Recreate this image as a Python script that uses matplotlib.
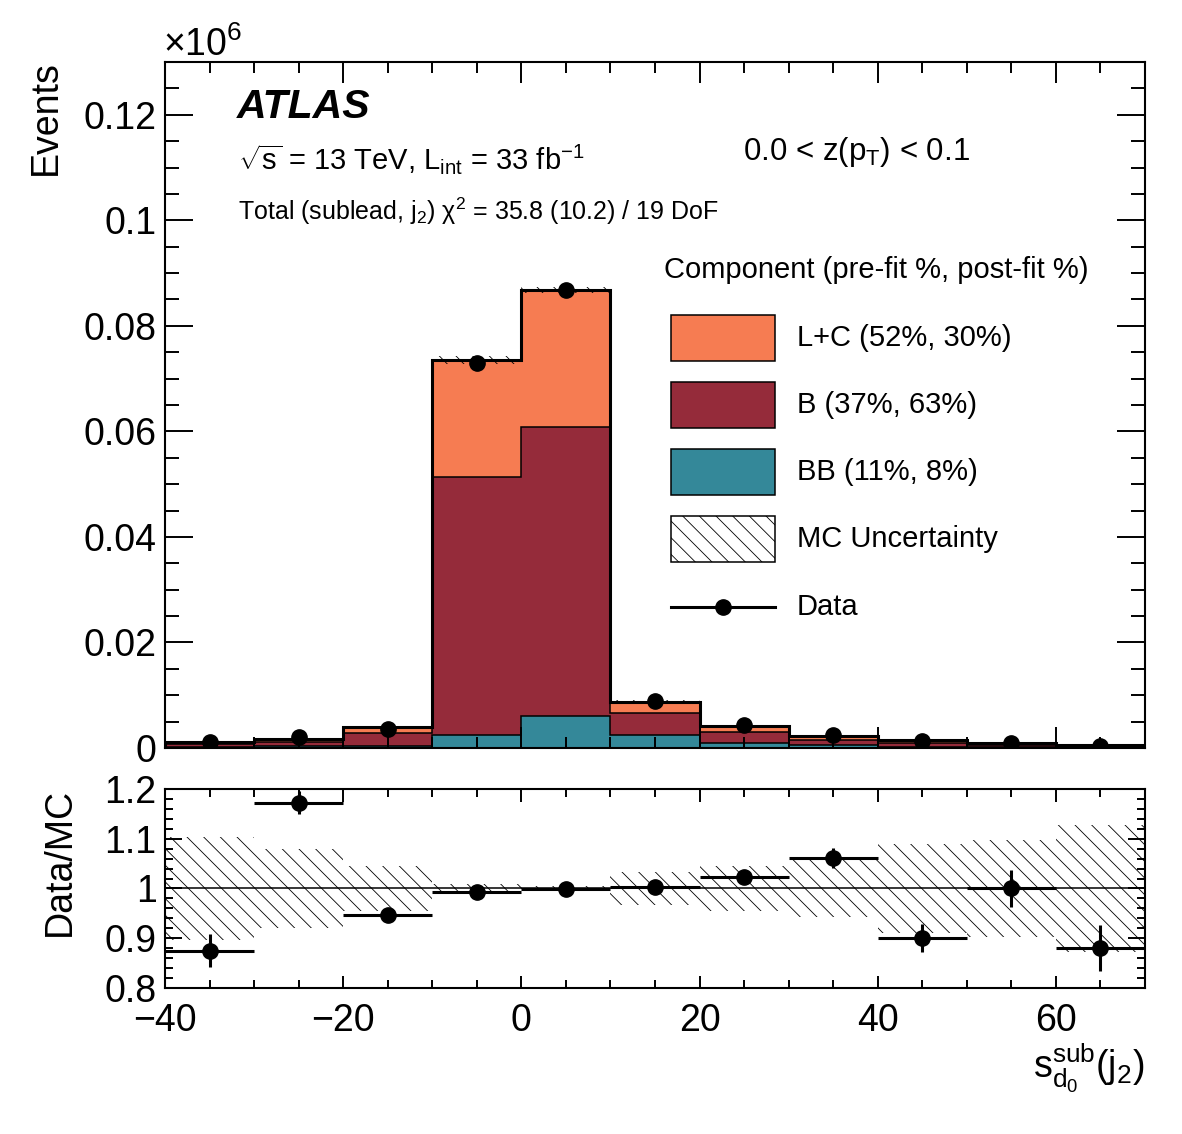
import numpy as np
import matplotlib
matplotlib.use('Agg')
import matplotlib.pyplot as plt
from matplotlib.patches import Rectangle
from matplotlib.lines import Line2D
from matplotlib.ticker import MultipleLocator, FuncFormatter

plt.rcParams['font.family'] = ['Liberation Sans', 'DejaVu Sans']
plt.rcParams['mathtext.fontset'] = 'custom'
plt.rcParams['mathtext.rm'] = 'Liberation Sans'
plt.rcParams['mathtext.it'] = 'Liberation Sans:italic'
plt.rcParams['mathtext.bf'] = 'Liberation Sans:bold'
plt.rcParams['hatch.linewidth'] = 0.6
plt.rcParams['hatch.color'] = 'black'

# ---------------- data (units of 10^6 events) ----------------
bin_edges = [-40, -30, -20, -10, 0, 10, 20, 30, 40, 50, 60, 70]
lc_vals = [0.0004, 0.0006, 0.0011, 0.0222, 0.0260, 0.0021, 0.0011, 0.0008, 0.0005, 0.0003, 0.00015]
b_vals = [0.0006, 0.0009, 0.0024, 0.0488, 0.0547, 0.0042, 0.0021, 0.0010, 0.0008, 0.0005, 0.0003]
bb_vals = [0.0002, 0.0003, 0.0004, 0.0025, 0.0061, 0.0025, 0.0010, 0.0005, 0.0002, 0.0001, 0.00005]
data_vals = [0.00105, 0.00211, 0.00369, 0.0730, 0.0867, 0.00882, 0.0043, 0.00244, 0.00135, 0.00090, 0.00044]
ratio_err = [0.033, 0.023, 0.010, 0.004, 0.003, 0.008, 0.010, 0.020, 0.028, 0.037, 0.046]
mc_rel_unc = [0.103, 0.080, 0.046, 0.010, 0.006, 0.033, 0.046, 0.058, 0.089, 0.097, 0.128]

legend_labels = ['L+C (52%, 30%)', 'B (37%, 63%)', 'BB (11%, 8%)', 'MC Uncertainty', 'Data']
c_lc = '#F67C52'
c_b = '#952B3A'
c_bb = '#348899'

edges = np.array(bin_edges, dtype=float)
centers = 0.5 * (edges[:-1] + edges[1:])
halfw = 0.5 * np.diff(edges)
lc = np.array(lc_vals); b = np.array(b_vals); bb = np.array(bb_vals)
data = np.array(data_vals)
total = lc + b + bb
unc = np.array(mc_rel_unc)
ratio = data / total

TICK_FS = 27
W, H = 1182, 1134
fig = plt.figure(figsize=(W / 100, H / 100), dpi=100)
ax = fig.add_axes([165 / W, 1 - 748 / H, 980 / W, 686 / H])
rax = fig.add_axes([165 / W, 1 - 988 / H, 980 / W, 199 / H])

# ---------------- main panel ----------------
base = np.zeros_like(total)
for vals, col in [(bb, c_bb), (b, c_b), (lc, c_lc)]:
    top = base + vals
    ax.stairs(top, edges, baseline=base, fill=True, facecolor=col, edgecolor='none', zorder=1)
    base = top
cum = np.zeros_like(total)
for vals in [bb, b]:
    cum = cum + vals
    ax.stairs(cum, edges, baseline=0, fill=False, color='black', lw=1.1, zorder=2)
ax.stairs(total * (1 + unc), edges, baseline=total * (1 - unc), fill=True,
          facecolor='none', edgecolor='black', hatch='\\\\', lw=0, zorder=3)
ax.stairs(total, edges, baseline=0, fill=False, color='black', lw=2.2, zorder=4)
ax.plot(centers, data, 'o', color='black', ms=11, zorder=5)

ax.set_xlim(-40, 70)
ax.set_ylim(0, 0.13)
ax.xaxis.set_major_locator(MultipleLocator(20))
ax.xaxis.set_minor_locator(MultipleLocator(5))
ax.yaxis.set_major_locator(MultipleLocator(0.02))
ax.yaxis.set_minor_locator(MultipleLocator(0.005))
ax.yaxis.set_major_formatter(FuncFormatter(lambda v, p: f"{v:g}"))
ax.tick_params(which='both', direction='in', top=True, right=True, labelbottom=False,
               labelsize=TICK_FS, width=1.4, pad=6)
ax.tick_params(axis='y', which='major', length=20)
ax.tick_params(axis='y', which='minor', length=10)
ax.tick_params(axis='x', which='major', length=15)
ax.tick_params(axis='x', which='minor', length=8)
for s in ax.spines.values():
    s.set_linewidth(1.5)

# texts
ax.text(0.0735, 0.918, 'ATLAS', transform=ax.transAxes, fontsize=29.5,
        fontweight='bold', fontstyle='italic', va='baseline', ha='left')
ax.text(0.0745, 0.8426, r'$\sqrt{\mathrm{s}}$ = 13 TeV, L$_{\mathrm{int}}$ = 33 fb$^{\mathrm{-1}}$',
        transform=ax.transAxes, fontsize=21, va='baseline', ha='left')
ax.text(0.0745, 0.770, r'Total (sublead, j$_{2}$) χ$^{2}$ = 35.8 (10.2) / 19 DoF',
        transform=ax.transAxes, fontsize=18, va='baseline', ha='left')
ax.text(0.590, 0.857, r'0.0 < z(p$_{\mathrm{T}}$) < 0.1', transform=ax.transAxes,
        fontsize=22.5, va='baseline', ha='left')
ax.text(0.509, 0.685, 'Component (pre-fit %, post-fit %)', transform=ax.transAxes,
        fontsize=21, va='baseline', ha='left')

# manual legend
def fx(px):
    return (px - 165) / 980

def fy(py):
    return (748 - py) / 686

box_x0, box_x1 = fx(671), fx(775)
boxes = [(315, 361, c_lc, None), (382, 428, c_b, None), (449, 495, c_bb, None), (516, 562, 'none', '\\\\')]
for (y0, y1, col, hat), lab in zip(boxes, legend_labels[:4]):
    r = Rectangle((box_x0, fy(y1)), box_x1 - box_x0, fy(y0) - fy(y1), transform=ax.transAxes,
                  facecolor=col, edgecolor='black', lw=1.1, hatch=hat, zorder=6)
    ax.add_patch(r)
    ax.text(fx(797), (fy(y0) + fy(y1)) / 2, lab, transform=ax.transAxes, fontsize=21,
            va='center', ha='left', zorder=6)
ax.add_line(Line2D([box_x0, box_x1], [fy(607), fy(607)], transform=ax.transAxes,
                   color='black', lw=2.2, zorder=6))
ax.add_line(Line2D([fx(723)], [fy(607)], transform=ax.transAxes, marker='o', ms=11,
                   color='black', zorder=7))
ax.text(fx(797), fy(607), legend_labels[4], transform=ax.transAxes, fontsize=21,
        va='center', ha='left', zorder=6)

fig.text(163 / W, 1 - 56 / H, r'$\times10^{6}$', fontsize=TICK_FS, ha='left', va='baseline')
fig.text(46 / W, 1 - 60 / H, 'Events', fontsize=TICK_FS, rotation=90, ha='center', va='top')

# ---------------- ratio panel ----------------
rax.stairs(1 + unc, edges, baseline=1 - unc, fill=True, facecolor='none',
           edgecolor='black', hatch='\\\\', lw=0, zorder=1)
rax.axhline(1.0, color='black', lw=1.1, zorder=2)
rax.errorbar(centers, ratio, xerr=halfw, yerr=ratio_err, fmt='o', color='black',
             ms=11, elinewidth=2.2, capsize=0, zorder=3)
rax.set_xlim(-40, 70)
rax.set_ylim(0.8, 1.2)
rax.xaxis.set_major_locator(MultipleLocator(20))
rax.xaxis.set_minor_locator(MultipleLocator(5))
rax.yaxis.set_major_locator(MultipleLocator(0.1))
rax.yaxis.set_minor_locator(MultipleLocator(0.02))
rax.yaxis.set_major_formatter(FuncFormatter(lambda v, p: f"{v:g}"))
rax.tick_params(which='both', direction='in', top=True, right=True,
                labelsize=TICK_FS, width=1.4, pad=6)
rax.tick_params(axis='x', which='both', pad=11)
rax.tick_params(axis='y', which='major', length=12)
rax.tick_params(axis='y', which='minor', length=6)
rax.tick_params(axis='x', which='major', length=9)
rax.tick_params(axis='x', which='minor', length=6)
for s in rax.spines.values():
    s.set_linewidth(1.5)

fig.text(60 / W, 1 - 788 / H, 'Data/MC', fontsize=TICK_FS, rotation=90, ha='center', va='top')
fig.text(1145 / W, 1 - 1078 / H, r'$\mathrm{s^{sub}_{d_{0}}(j_{2})}$', fontsize=TICK_FS,
         ha='right', va='baseline')

fig.savefig('out.png', dpi=100)
